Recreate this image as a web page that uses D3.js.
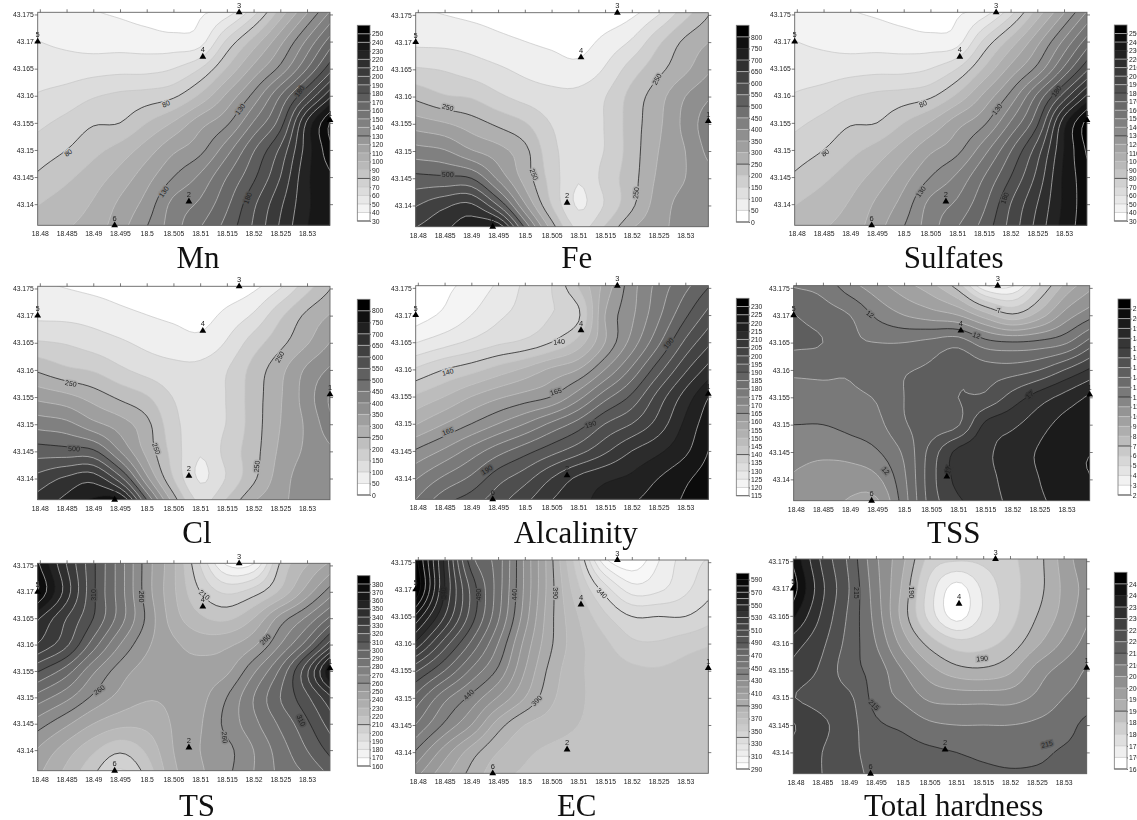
<!DOCTYPE html>
<html>
<head>
<meta charset="utf-8">
<title>Contour maps</title>
<script src="https://cdn.jsdelivr.net/npm/d3@7/dist/d3.min.js"></script>
<style>
  html, body { margin: 0; padding: 0; background: #fff; }
  svg { display: block; filter: blur(0.35px); }
  text { font-family: "Liberation Sans", Arial, sans-serif; fill: #222; }
  .title { font-family: "Liberation Serif", "Times New Roman", serif; font-size: 31px; fill: #111; text-anchor: middle; }
  .tick text { font-size: 6.8px; }
  .domain { display: none; }
</style>
</head>
<body>
<script>
// --- tick labels shared by all panels
const lonTicks = [18.48, 18.485, 18.49, 18.495, 18.5, 18.505, 18.51, 18.515, 18.52, 18.525, 18.53];
const latTicks = [43.175, 43.17, 43.165, 43.16, 43.155, 43.15, 43.145, 43.14];

// --- sampling points (wells)
const wellIds = ["1", "2", "3", "4", "5", "6"];
const wellLon = [18.5343, 18.5079, 18.5173, 18.5105, 18.4796, 18.494];
const wellLat = [43.1555, 43.1405, 43.1754, 43.1672, 43.17, 43.1361];

// --- colour bar levels
const levelsMn = d3.range(30, 251, 10);
const levelsFe = d3.range(0, 801, 50);
const levelsSulfates = d3.range(30, 251, 10);
const levelsCl = d3.range(0, 801, 50);
const levelsAlc = d3.range(115, 231, 5);
const levelsTSS = d3.range(2, 22, 1);
const levelsTS = d3.range(160, 381, 10);
const levelsEC = d3.range(290, 591, 10);
const levelsTH = d3.range(165, 246, 5);

// --- values: rows are 43.175 ... 43.135, columns 18.48 ... 18.535
const gridMn = [
  [46, 44, 41, 39, 36, 33, 39, 47, 68, 96, 121, 146],
  [50, 48, 46, 46, 45, 44, 46, 72, 94, 117, 142, 168],
  [55, 55, 56, 57, 57, 60, 70, 91, 113, 133, 160, 190],
  [61, 64, 69, 72, 74, 78, 92, 112, 133, 160, 190, 222],
  [68, 73, 79, 80, 90, 101, 116, 128, 151, 175, 222, 255],
  [75, 80, 87, 94, 105, 118, 127, 146, 169, 192, 225, 250],
  [82, 88, 95, 104, 116, 130, 142, 160, 178, 200, 228, 240],
  [90, 95, 101, 112, 124, 143, 152, 168, 188, 208, 228, 240],
  [95, 100, 105, 117, 131, 146, 161, 175, 192, 212, 230, 240]
];
const gridFe = [
  [60, 50, 40, 30, 20, 10, 8, 15, 42, 100, 185, 258],
  [90, 88, 80, 64, 51, 40, 30, 65, 108, 190, 262, 305],
  [155, 146, 127, 108, 88, 75, 66, 105, 175, 235, 290, 350],
  [235, 205, 195, 160, 132, 115, 115, 148, 218, 280, 350, 400],
  [325, 305, 275, 240, 205, 148, 125, 152, 225, 290, 365, 440],
  [420, 405, 355, 320, 265, 165, 128, 152, 225, 300, 350, 425],
  [515, 510, 500, 390, 280, 180, 104, 168, 230, 310, 350, 380],
  [600, 640, 660, 550, 360, 200, 94, 155, 240, 325, 365, 365],
  [665, 700, 750, 790, 530, 300, 150, 220, 310, 340, 365, 370]
];
const gridSulfates = [
  [46, 44, 41, 39, 36, 33, 39, 47, 68, 96, 121, 146],
  [50, 48, 46, 46, 45, 44, 46, 72, 94, 117, 142, 168],
  [55, 55, 56, 57, 57, 60, 70, 91, 113, 133, 162, 192],
  [61, 64, 69, 72, 74, 78, 92, 112, 133, 162, 194, 226],
  [68, 73, 79, 80, 90, 101, 116, 128, 151, 178, 226, 258],
  [75, 80, 87, 94, 105, 118, 127, 146, 169, 195, 230, 255],
  [82, 88, 95, 104, 116, 130, 142, 160, 180, 203, 232, 248],
  [90, 95, 101, 112, 124, 143, 152, 168, 190, 210, 232, 248],
  [95, 100, 105, 117, 131, 146, 161, 175, 194, 214, 234, 248]
];
const gridCl = [
  [60, 50, 40, 30, 20, 10, 8, 15, 42, 100, 185, 258],
  [90, 88, 80, 64, 51, 40, 30, 65, 108, 190, 262, 310],
  [155, 146, 127, 108, 88, 75, 66, 105, 175, 235, 295, 360],
  [240, 210, 195, 160, 132, 115, 115, 148, 218, 285, 360, 415],
  [335, 315, 280, 240, 205, 148, 125, 152, 225, 295, 375, 470],
  [430, 415, 365, 325, 265, 165, 128, 152, 225, 300, 360, 445],
  [525, 520, 510, 400, 285, 180, 104, 168, 230, 310, 360, 395],
  [620, 660, 680, 570, 365, 200, 94, 155, 240, 325, 375, 375],
  [685, 725, 775, 810, 540, 300, 150, 220, 310, 340, 375, 380]
];
const gridAlc = [
  [117, 119, 122, 126, 131, 135, 145, 157, 168, 177, 184, 191],
  [118, 121, 125, 129, 132, 135, 139, 160, 169, 179, 189, 198],
  [125, 128, 131, 134, 136, 140, 147, 160, 172, 184, 196, 205],
  [136, 140, 143, 147, 151, 156, 160, 170, 181, 193, 204, 213],
  [146, 150, 155, 159, 162, 165, 173, 183, 191, 202, 212, 221],
  [155, 160, 165, 170, 175, 181, 187, 195, 200, 207, 216, 224],
  [166, 171, 177, 183, 188, 193, 198, 204, 210, 214, 219, 226],
  [175, 181, 186, 193, 198, 205, 211, 214, 216, 220, 224, 228],
  [182, 190, 194, 199, 205, 211, 214, 217, 220, 223, 226, 230]
];
const gridTSS = [
  [13, 12.7, 11.5, 10.5, 9.5, 8.5, 6.7, 3.5, 3.2, 6, 8.5, 10],
  [14, 13.5, 13, 11.8, 11, 10.5, 10, 8.5, 7.2, 8.5, 10.5, 11.8],
  [14.2, 14, 13.2, 13, 13, 13.3, 13.6, 12.4, 12.1, 12.3, 12.9, 14.7],
  [13.2, 13.2, 13.1, 13.6, 13.9, 14.2, 14.8, 14.5, 14.5, 15, 16.1, 17.3],
  [12.6, 12.7, 12.8, 13.1, 14, 14.6, 15, 15.2, 16.4, 17.5, 18.4, 19.3],
  [12, 12, 12.3, 12.7, 13.9, 14.4, 14.9, 17.2, 17.8, 18.6, 19.4, 19.6],
  [11.3, 11.2, 11.4, 11.9, 13.2, 15.4, 17.3, 17.8, 18.5, 19.1, 19.8, 20],
  [10.9, 10.6, 10.4, 10.8, 12.8, 15.6, 17.3, 17.7, 18.4, 19, 19.7, 20],
  [10.8, 10.4, 9.8, 9.6, 12.5, 15.4, 16.7, 17.5, 18.2, 18.8, 19.3, 19.5]
];
const gridTS = [
  [370, 340, 312, 285, 255, 232, 200, 170, 172, 212, 230, 245],
  [378, 345, 312, 285, 255, 232, 210, 198, 205, 222, 245, 268],
  [350, 330, 310, 285, 258, 235, 222, 218, 230, 254, 272, 295],
  [338, 322, 295, 270, 252, 242, 236, 238, 248, 270, 295, 330],
  [310, 295, 272, 255, 246, 243, 244, 248, 268, 292, 328, 375],
  [285, 273, 258, 247, 241, 242, 247, 260, 280, 300, 318, 341],
  [264, 252, 240, 233, 233, 241, 249, 263, 277, 292, 308, 327],
  [248, 235, 222, 212, 222, 240, 250, 257, 270, 285, 300, 315],
  [240, 226, 210, 195, 212, 237, 248, 258, 270, 282, 290, 302]
];
const gridEC = [
  [590, 538, 485, 465, 428, 392, 352, 305, 293, 310, 325, 332],
  [595, 540, 497, 465, 428, 393, 362, 335, 315, 318, 328, 338],
  [565, 530, 495, 462, 425, 392, 370, 352, 340, 340, 340, 347],
  [535, 505, 478, 450, 417, 391, 373, 362, 352, 351, 355, 359],
  [500, 480, 458, 438, 410, 386, 372, 366, 362, 361, 364, 370],
  [475, 453, 437, 419, 400, 382, 372, 366, 364, 364, 364, 366],
  [458, 438, 420, 395, 380, 375, 370, 366, 365, 365, 365, 365],
  [437, 415, 395, 380, 372, 368, 366, 364, 364, 364, 364, 364],
  [418, 400, 385, 372, 368, 366, 365, 364, 364, 364, 364, 364]
];
const gridTH = [
  [243, 229, 219, 206, 196, 183, 180, 181, 184, 188, 197, 205],
  [246, 231, 220, 207, 194, 178, 168, 176, 183, 188, 196, 203],
  [240, 229, 219, 208, 193, 178, 168, 176, 183, 190, 197, 205],
  [232, 226, 218, 210, 198, 188, 182, 183, 187, 194, 201, 208],
  [228, 224, 217, 213, 205, 197, 192, 191, 194, 202, 207, 211],
  [225, 223, 221, 213, 209, 204, 203, 203, 203, 206, 210, 212],
  [230, 226, 222, 216, 214, 211, 210, 210, 210, 211, 213, 217],
  [228, 225, 221.5, 218, 217, 216, 215, 214, 213.5, 214, 215.5, 216],
  [227, 225, 222, 219, 218, 218, 217, 216.5, 216, 216, 216, 216]
];

// --- contour labels: value, lon, lat, rotation
const labelsMn = [[80, 18.4853, 43.1495, -35], [80, 18.5036, 43.1585, -25], [130, 18.5032, 43.1423, -55], [130, 18.5175, 43.1575, -52], [180, 18.5189, 43.1411, -70], [180, 18.5286, 43.1608, -55]];
const labelsFe = [[250, 18.4856, 43.158, 15], [250, 18.5017, 43.1457, 70], [500, 18.4856, 43.1457, 2], [250, 18.5208, 43.1423, -85], [250, 18.5247, 43.1632, -60]];
const labelsSulfates = labelsMn;
const labelsCl = [[250, 18.4858, 43.1575, 12], [250, 18.5018, 43.1455, 70], [500, 18.4864, 43.1455, 2], [250, 18.5206, 43.1422, -85], [250, 18.5249, 43.1624, -60]];
const labelsAlc = [[140, 18.4856, 43.1595, -15], [140, 18.5064, 43.1651, -5], [165, 18.4856, 43.1486, -20], [165, 18.5058, 43.1559, -18], [190, 18.4929, 43.1415, -30], [190, 18.5123, 43.1499, -20], [190, 18.5269, 43.1648, -50], [215, 18.5213, 43.1411, -35]];
const labelsTSS = [[12, 18.4937, 43.1702, 35], [12, 18.5134, 43.1663, 20], [7, 18.5175, 43.1709, 0], [17, 18.5232, 43.1554, -40], [17, 18.5082, 43.1417, -75], [12, 18.4966, 43.1416, 50]];
const labelsTS = [[310, 18.4901, 43.1694, -90], [260, 18.4991, 43.1691, 90], [260, 18.4911, 43.1514, -35], [210, 18.5108, 43.1694, 40], [260, 18.5222, 43.161, -45], [310, 18.5289, 43.1456, 65], [260, 18.5146, 43.1424, 85]];
const labelsEC = [[540, 18.4848, 43.1693, -90], [490, 18.4913, 43.169, -90], [440, 18.4981, 43.169, -90], [390, 18.5058, 43.1693, 90], [340, 18.5144, 43.1693, 45], [440, 18.4895, 43.1506, -45], [390, 18.5022, 43.1495, -45]];
const labelsTH = [[215, 18.4913, 43.1692, 90], [190, 18.5016, 43.1693, 90], [190, 18.5148, 43.1572, -5], [215, 18.4946, 43.1487, 45], [215, 18.5269, 43.1415, -15]];

// --- layout: plot box [left, right, top, bottom], colour bar [left, top, bottom], title [x, baseline]
const panels = [
  { name: "Mn", grid: gridMn, levels: levelsMn, labels: labelsMn, box: [37.7, 330, 12.3, 225.3], bar: [357.3, 25.3, 221], title: [198, 268] },
  { name: "Fe", grid: gridFe, levels: levelsFe, labels: labelsFe, box: [415.7, 708.3, 12.7, 226.7], bar: [736.3, 25.3, 222], title: [576.7, 268] },
  { name: "Sulfates", grid: gridSulfates, levels: levelsSulfates, labels: labelsSulfates, box: [794.7, 1087, 12.3, 225.3], bar: [1114.3, 25, 221], title: [953.7, 268] },
  { name: "Cl", grid: gridCl, levels: levelsCl, labels: labelsCl, box: [37.7, 330, 286.3, 499.7], bar: [357.3, 299.3, 495], title: [197, 543] },
  { name: "Alcalinity", grid: gridAlc, levels: levelsAlc, labels: labelsAlc, box: [415.7, 708.3, 285.7, 499.3], bar: [736.3, 298.3, 495.7], title: [575.7, 543] },
  { name: "TSS", grid: gridTSS, levels: levelsTSS, labels: labelsTSS, box: [793.7, 1089.7, 285.7, 500.7], bar: [1118, 299, 495], title: [953.7, 543] },
  { name: "TS", grid: gridTS, levels: levelsTS, labels: labelsTS, box: [37.7, 330, 563.3, 770.7], bar: [357.3, 575.7, 766], title: [197, 816] },
  { name: "EC", grid: gridEC, levels: levelsEC, labels: labelsEC, box: [415.7, 708.3, 560, 773.3], bar: [736.3, 573.3, 769], title: [576.7, 816], barEvery: 2 },
  { name: "Total hardness", grid: gridTH, levels: levelsTH, labels: labelsTH, box: [793.3, 1086.7, 559, 773.7], bar: [1114.3, 572.3, 769], title: [953.7, 816] }
];

const lonExtent = [18.4796, 18.5343];
const latExtent = [43.1754, 43.1361];
const gridLon0 = 18.48, gridLat0 = 43.175, gridStep = 0.005;
const pad = 2;    // grid cells added outside the frame, hidden by the clip
const fine = 5;   // contour tracing steps per grid cell
const barWidth = 12.7;

const svg = d3.select("body").append("svg").attr("width", 1137).attr("height", 820);

// Continues a row or a column straight past both of its ends.
function extend(a) {
  const n = a.length, out = [];
  for (let k = pad; k > 0; k--) out.push(a[0] - k * (a[1] - a[0]));
  out.push(...a);
  for (let k = 1; k <= pad; k++) out.push(a[n - 1] + k * (a[n - 1] - a[n - 2]));
  return out;
}

function cubic(a, b, c, d, t) {
  return b + 0.5 * t * (c - a + t * (2 * a - 5 * b + 4 * c - d + t * (3 * (b - c) + d - a)));
}

// Smooth surface through the read values, so the traced lines do not show the grid cells.
function smoothField(grid) {
  const byRow = grid.map(extend);
  const cols = byRow[0].length;
  const full = d3.range(cols).map(c => extend(byRow.map(r => r[c])));
  const rows = full[0].length;
  const at = (r, c) => full[Math.max(0, Math.min(cols - 1, c))][Math.max(0, Math.min(rows - 1, r))];
  const w = (cols - 1) * fine + 1, h = (rows - 1) * fine + 1;
  const values = new Array(w * h);
  for (let j = 0; j < h; j++) {
    const r = Math.floor(j / fine), v = j / fine - r;
    for (let i = 0; i < w; i++) {
      const c = Math.floor(i / fine), u = i / fine - c;
      const col = [-1, 0, 1, 2].map(dr => cubic(at(r + dr, c - 1), at(r + dr, c), at(r + dr, c + 1), at(r + dr, c + 2), u));
      values[j * w + i] = cubic(col[0], col[1], col[2], col[3], v);
    }
  }
  return { values, w, h };
}

function drawPanel(p, idx) {
  const [left, right, top, bottom] = p.box;
  const x = d3.scaleLinear().domain(lonExtent).range([left, right]);
  const y = d3.scaleLinear().domain(latExtent).range([top, bottom]);
  const n = p.levels.length;
  const shade = d3.scaleLinear().domain([0, n - 1]).range([255, 0]);
  const grey = i => { const g = Math.round(shade(i)); return `rgb(${g},${g},${g})`; };

  const g = svg.append("g");
  const clipId = "clip" + idx;
  g.append("clipPath").attr("id", clipId).append("rect")
    .attr("x", left).attr("y", top).attr("width", right - left).attr("height", bottom - top);

  const field = smoothField(p.grid);
  const contours = d3.contours().size([field.w, field.h]).thresholds(p.levels)(field.values);

  const ringLine = d3.line()
    .x(d => x(gridLon0 + ((d[0] - 0.5) / fine - pad) * gridStep))
    .y(d => y(gridLat0 - ((d[1] - 0.5) / fine - pad) * gridStep));
  const pathOf = c => c.coordinates.flat().map(ring => ringLine(ring) + "Z").join(" ");

  const plot = g.append("g").attr("clip-path", `url(#${clipId})`);
  plot.append("rect").attr("x", left).attr("y", top).attr("width", right - left).attr("height", bottom - top).attr("fill", "#fff");

  // Filled bands, lowest level first; level i is painted with the shade of band i.
  plot.selectAll("path.band").data(contours).join("path")
    .attr("class", "band")
    .attr("d", pathOf)
    .attr("fill", (d, i) => grey(i))
    .attr("fill-rule", "evenodd");

  plot.selectAll("path.iso").data(contours).join("path")
    .attr("class", "iso")
    .attr("d", pathOf)
    .attr("fill", "none")
    .attr("stroke", (d, i) => i % 5 === 0 ? "#1c1c1c" : "#c6c6c6")
    .attr("stroke-width", (d, i) => i % 5 === 0 ? 0.75 : 0.7);

  // Contour labels, halo takes the band colour to break the line
  plot.selectAll("text.iso-label").data(p.labels).join("text")
    .attr("class", "iso-label")
    .attr("transform", d => `translate(${x(d[1])},${y(d[2])}) rotate(${d[3]})`)
    .attr("text-anchor", "middle").attr("dy", "0.35em")
    .style("font-size", "7px")
    .style("paint-order", "stroke")
    .style("stroke", d => grey(p.levels.indexOf(d[0])))
    .style("stroke-width", 3)
    .text(d => d[0]);

  // Frame and axes
  g.append("rect").attr("x", left).attr("y", top).attr("width", right - left).attr("height", bottom - top)
    .attr("fill", "none").attr("stroke", "#666").attr("stroke-width", 0.9);

  const fmt = d => String(d);
  const styleAxis = sel => sel.selectAll("line").attr("stroke", "#444").attr("stroke-width", 0.7);
  g.append("g").attr("transform", `translate(0,${bottom})`)
    .call(d3.axisBottom(x).tickValues(lonTicks).tickFormat(fmt).tickSize(0).tickPadding(6)).call(styleAxis);
  g.append("g").attr("transform", `translate(0,${top})`)
    .call(d3.axisTop(x).tickValues(lonTicks).tickFormat("").tickSize(3)).call(styleAxis);
  g.append("g").attr("transform", `translate(${left},0)`)
    .call(d3.axisLeft(y).tickValues(latTicks).tickFormat(fmt).tickSize(3).tickPadding(1)).call(styleAxis);
  g.append("g").attr("transform", `translate(${right},0)`)
    .call(d3.axisRight(y).tickValues(latTicks).tickFormat("").tickSize(3)).call(styleAxis);

  // Wells
  const wells = g.selectAll("g.well").data(wellIds).join("g")
    .attr("class", "well")
    .attr("transform", (d, i) => `translate(${x(wellLon[i])},${y(wellLat[i])})`);
  wells.append("path").attr("d", d3.symbol(d3.symbolTriangle, 20)).attr("fill", "#000");
  wells.append("text").attr("text-anchor", "middle").attr("y", -4.5)
    .style("font-size", "7.5px").text(d => d);

  // Colour bar
  const [bx, bTop, bBottom] = p.bar;
  const step = p.levels[1] - p.levels[0];
  const first = p.levels[0], last = p.levels[n - 1];
  const barY = d3.scaleLinear().domain([first, last + step]).range([bBottom, bTop]);
  const bar = g.append("g");
  bar.selectAll("rect").data(p.levels).join("rect")
    .attr("x", bx).attr("width", barWidth)
    .attr("y", d => barY(d + step)).attr("height", d => barY(d) - barY(d + step))
    .attr("fill", (d, i) => grey(i));
  bar.selectAll("line").data(p.levels).join("line")
    .attr("x1", bx).attr("x2", bx + barWidth)
    .attr("y1", d => barY(d)).attr("y2", d => barY(d))
    .attr("stroke", (d, i) => i % 5 === 0 ? "#1c1c1c" : "#c6c6c6").attr("stroke-width", 0.7);
  bar.append("rect").attr("x", bx).attr("y", bTop).attr("width", barWidth).attr("height", bBottom - bTop)
    .attr("fill", "none").attr("stroke", "#777").attr("stroke-width", 0.8);
  const every = p.barEvery || 1;
  g.append("g").attr("transform", `translate(${bx + barWidth},0)`)
    .call(d3.axisRight(barY).tickValues(p.levels.filter((d, i) => i % every === 0)).tickFormat(fmt).tickSize(1).tickPadding(1))
    .call(styleAxis);

  g.append("text").attr("class", "title").attr("x", p.title[0]).attr("y", p.title[1]).text(p.name);
}

panels.forEach(drawPanel);
</script>
</body>
</html>
